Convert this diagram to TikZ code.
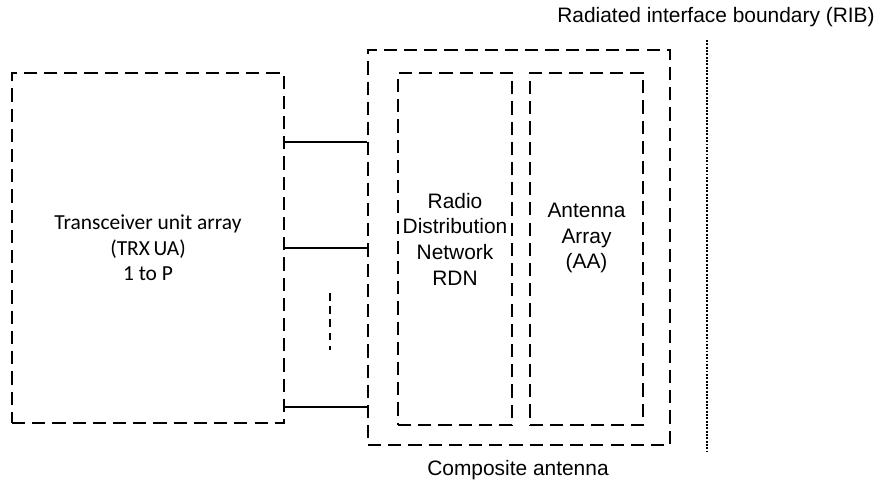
\documentclass[tikz,border=0pt]{standalone}
\usepackage{fontspec}
\setmainfont{Liberation Sans}
\newfontfamily\calfont{Carlito}
\usepackage{tikz}
\usetikzlibrary{positioning}

\tikzset{
	dashbox/.style={draw,dash pattern=on 7.5pt off 4pt,line width=0.9pt,inner sep=0pt},
	txt/.style={align=center,font=\fontsize{11.9}{14.6}\selectfont},
}

\begin{document}
\begin{tikzpicture}
		\useasboundingbox (0,0) rectangle (17.54,-9.72);
		\node[dashbox,minimum width=5.44cm,minimum height=7cm,align=center,font=\calfont\fontsize{12.2}{14.6}\selectfont] (trx) at (2.96,-4.96) {Transceiver unit array\\(TRX\,UA)\\1 to P};
		\node[dashbox,minimum width=6.04cm,minimum height=7.9cm] (comp) at (10.38,-4.95) {};
		\node[dashbox,minimum width=2.28cm,minimum height=7.04cm] (rdn) at (9.10,-4.98) {};
		\node[dashbox,minimum width=2.26cm,minimum height=7.04cm] (aa) at (11.73,-4.98) {};
		%
		\node[txt] (rdntxt) at ([yshift=0.2cm]rdn.center) {Radio\\Distribution\\Network\\RDN};
		\node[txt] (aatxt) at ([yshift=0.22cm]aa.center) {Antenna\\Array\\(AA)};
		\node[txt] (comptxt) at (10.36,-9.4) {Composite antenna};
		\node[txt] (ribtxt) at (14.32,-0.34) {Radiated interface boundary (RIB)};
		%
		\coordinate (c1) at (5.68,-2.84);
		\coordinate (c2) at (5.68,-4.96);
		\coordinate (c3) at (5.68,-8.14);
		\path[draw,line width=1.3pt]
			(c1) edge (c1 -| comp.west)
			(c2) edge (c2 -| comp.west)
			(c3) -- (c3 -| comp.west);
		%
		\coordinate (dtop) at (6.6,-5.86);
		\coordinate (dbot) at (6.6,-7.0);
		\draw[line width=1.3pt,dash pattern=on 4.5pt off 3pt] (dtop) -- (dbot);
		%
		\coordinate (ribtop) at (14.14,-0.8);
		\coordinate (ribbot) at (14.14,-9.04);
		\draw[line width=1.5pt,dash pattern=on 1.1pt off 0.8pt] (ribtop) -- (ribbot);
	\end{tikzpicture}
\end{document}
